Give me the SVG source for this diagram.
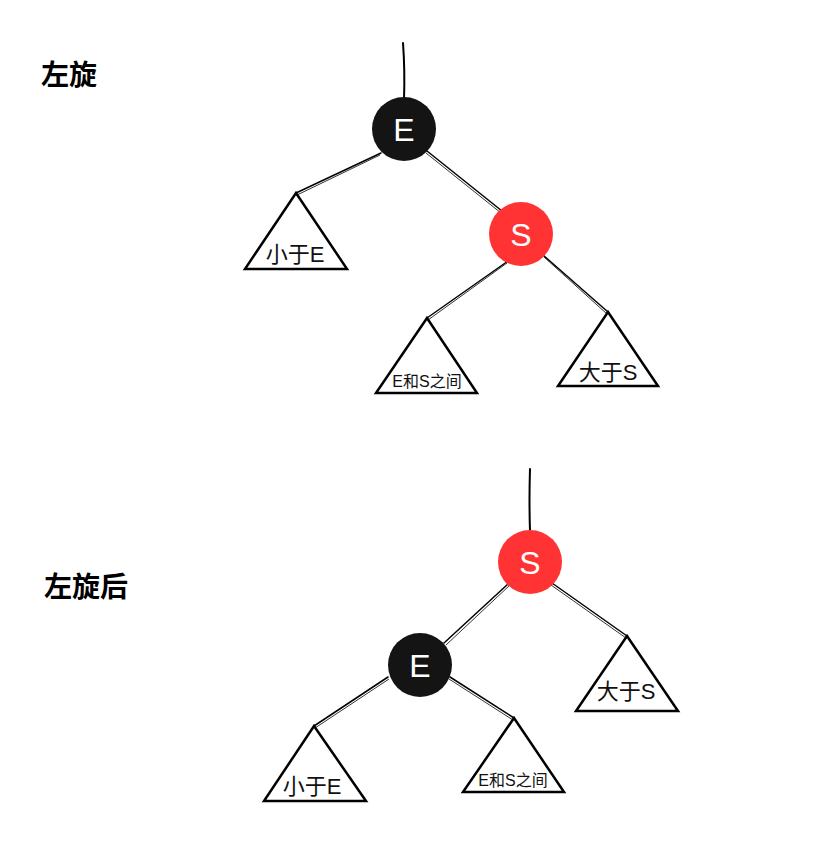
<svg xmlns="http://www.w3.org/2000/svg" width="815" height="852" viewBox="0 0 815 852">
<style>
.bg{fill:#ffffff}
.edge{stroke:#000;stroke-width:1.5;fill:none;stroke-linecap:round}
.edge2{stroke:#000;stroke-width:0.8;fill:none}
.root{stroke:#000;stroke-width:2;fill:none;stroke-linecap:round}
.tri{fill:#fff;stroke:#000;stroke-width:2.5;stroke-linejoin:miter}
.black{fill:#141414}
.red{fill:#ff3333}
.nl{fill:#fff;font-family:"Liberation Sans","DejaVu Sans",sans-serif;font-size:32px;text-anchor:middle}
.tl{fill:#111;font-family:"Liberation Sans","Noto Sans CJK SC",sans-serif;font-size:22px;text-anchor:middle}
.ts{fill:#111;font-family:"Liberation Sans","Noto Sans CJK SC",sans-serif;font-size:16px;text-anchor:middle}
.title{fill:#000;font-family:"Noto Sans CJK SC",sans-serif;font-size:28px;font-weight:bold}
</style>
<rect class="bg" x="0" y="0" width="815" height="852"/>
<text class="title" x="41" y="85">左旋</text>
<text class="title" x="44" y="597">左旋后</text>
<g id="connectors">
  <path class="root" d="M403,43 Q405,70 404,100"/>
  <path class="edge" d="M381,153 L296,193"/>
  <path class="edge2" d="M380,155 L297,195"/>
  <path class="edge" d="M427,151 L502,211"/>
  <path class="edge2" d="M426,153 L501,213"/>
  <path class="edge" d="M508,261 L427,318"/>
  <path class="edge2" d="M507,263 L428,320"/>
  <path class="edge" d="M543,255 L608,312"/>
  <path class="edge2" d="M544,257 L607,314"/>
  <path class="root" d="M530,469 Q529,500 530,531"/>
  <path class="edge" d="M508,584 L444,643"/>
  <path class="edge2" d="M510,585 L446,645"/>
  <path class="edge" d="M552,583 L627,636"/>
  <path class="edge2" d="M551,585 L626,638"/>
  <path class="edge" d="M388,677 L314,726"/>
  <path class="edge2" d="M389,679 L315,728"/>
  <path class="edge" d="M450,677 L514,718"/>
  <path class="edge2" d="M449,679 L513,720"/>
</g>
<g id="top-E">
  <circle class="black" cx="404" cy="129" r="32"/>
  <text class="nl" x="404" y="141">E</text>
</g>
<g id="top-S">
  <circle class="red" cx="521" cy="234" r="32"/>
  <text class="nl" x="521" y="246">S</text>
</g>
<g id="top-lessE">
  <polygon class="tri" points="296,193 347,269 245,269"/>
  <text class="tl" x="295" y="262">小于E</text>
</g>
<g id="top-between">
  <polygon class="tri" points="427,318 477,393 376,393"/>
  <text class="ts" x="427" y="387">E和S之间</text>
</g>
<g id="top-greaterS">
  <polygon class="tri" points="608,312 658,386 558,386"/>
  <text class="tl" x="608" y="380">大于S</text>
</g>
<g id="bot-S">
  <circle class="red" cx="530" cy="562" r="32"/>
  <text class="nl" x="530" y="574">S</text>
</g>
<g id="bot-E">
  <circle class="black" cx="420" cy="665" r="32"/>
  <text class="nl" x="420" y="677">E</text>
</g>
<g id="bot-greaterS">
  <polygon class="tri" points="627,636 678,711 576,711"/>
  <text class="tl" x="626" y="699">大于S</text>
</g>
<g id="bot-lessE">
  <polygon class="tri" points="314,726 366,801 264,801"/>
  <text class="tl" x="312" y="794">小于E</text>
</g>
<g id="bot-between">
  <polygon class="tri" points="514,718 564,792 463,792"/>
  <text class="ts" x="513" y="786">E和S之间</text>
</g>
</svg>
